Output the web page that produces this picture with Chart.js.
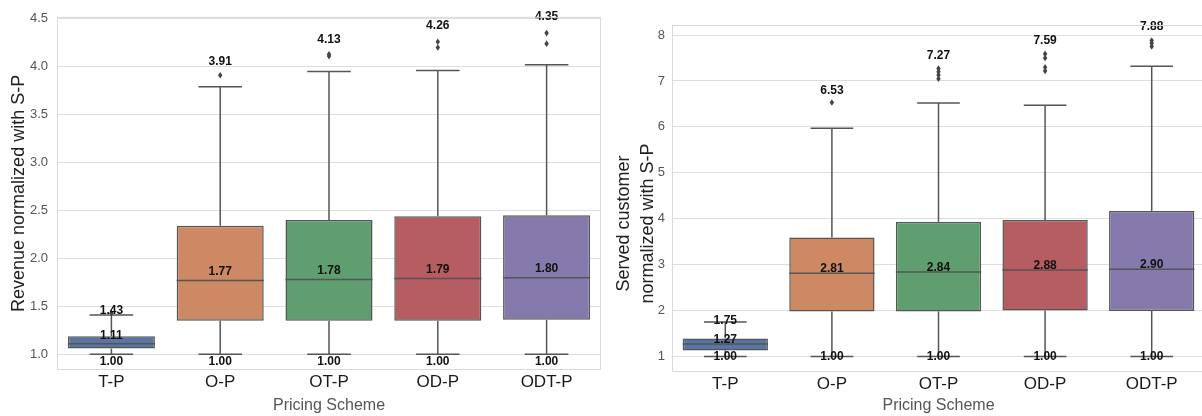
<!DOCTYPE html>
<html><head><meta charset="utf-8">
<script src="https://cdn.jsdelivr.net/npm/chart.js@4.4.1/dist/chart.umd.min.js"></script>
<style>
html,body{margin:0;padding:0;background:#fff;overflow:hidden;width:1202px;height:416px;}
#wrap{position:relative;width:1202px;height:416px;overflow:hidden;background:#fff;}
#c1{position:absolute;left:0;top:0;width:605px;height:416px;}
#c2{position:absolute;left:600px;top:0;width:612px;height:416px;}
</style></head><body>
<div id="wrap"><canvas id="c1" width="605" height="416"></canvas><canvas id="c2" width="612" height="416"></canvas></div>
<script>
const categories = ['T-P', 'O-P', 'OT-P', 'OD-P', 'ODT-P'];
const boxColors = ['#5975A4', '#CC8963', '#5F9E6E', '#B55D60', '#857AAB'];

// Revenue normalized with S-P
const revMin       = [1.00, 1.00, 1.00, 1.00, 1.00];
const revQ1        = [1.06, 1.35, 1.35, 1.35, 1.36];
const revMedian    = [1.11, 1.77, 1.78, 1.79, 1.80];
const revQ3        = [1.19, 2.34, 2.40, 2.44, 2.45];
const revWhiskerHi = [1.41, 3.79, 3.95, 3.96, 4.02];
const revOutliers  = [[1.43], [3.91], [4.11, 4.13], [4.20, 4.26], [4.24, 4.35]];
const revTicks     = [1.0, 1.5, 2.0, 2.5, 3.0, 3.5, 4.0, 4.5];

// Served customer normalized with S-P
const cusMin       = [1.00, 1.00, 1.00, 1.00, 1.00];
const cusQ1        = [1.13, 1.98, 1.98, 2.00, 1.99];
const cusMedian    = [1.27, 2.81, 2.84, 2.88, 2.90];
const cusQ3        = [1.39, 3.59, 3.93, 3.97, 4.17];
const cusWhiskerHi = [1.75, 5.97, 6.52, 6.47, 7.32];
const cusOutliers  = [[], [6.53], [7.05, 7.13, 7.20, 7.27], [7.22, 7.30, 7.50, 7.59], [7.75, 7.82, 7.88]];
const cusTicks     = [1, 2, 3, 4, 5, 6, 7, 8];

const FONT = "'Liberation Sans', Arial, sans-serif";
const LINE = '#555555';

function makeBoxPlugin(st, sty) {
  return {
    id: 'boxplot_' + sty.name,
    afterDraw(chart) {
      const {ctx, chartArea: a} = chart;
      ctx.save();
      ctx.strokeStyle = '#d9d9d9';
      ctx.lineWidth = 1;
      ctx.strokeRect(a.left + 0.5, a.top + 0.5, a.right - a.left - 1, a.bottom - a.top - 1);
      ctx.restore();
    },
    afterDatasetsDraw(chart) {
      const {ctx} = chart;
      const y = chart.scales.y;
      const meta = chart.getDatasetMeta(0);
      const py = v => y.getPixelForValue(v);
      const line = (x1, y1, x2, y2) => { ctx.beginPath(); ctx.moveTo(x1, y1); ctx.lineTo(x2, y2); ctx.stroke(); };
      meta.data.forEach((bar, i) => {
        const cx = bar.x, hw = bar.width / 2, cw = hw / 2;
        ctx.save();
        ctx.strokeStyle = LINE;
        ctx.lineWidth = 1.5;
        line(cx, py(st.q3[i]), cx, py(st.hi[i]));
        line(cx, py(st.q1[i]), cx, py(st.min[i]));
        line(cx - cw, py(st.hi[i]), cx + cw, py(st.hi[i]));
        line(cx - cw, py(st.min[i]), cx + cw, py(st.min[i]));
        line(cx - hw, py(st.med[i]), cx + hw, py(st.med[i]));
        ctx.fillStyle = '#444';
        st.out[i].forEach(v => {
          const oy = py(v);
          ctx.beginPath();
          ctx.moveTo(cx, oy - 3.3); ctx.lineTo(cx + 2.2, oy); ctx.lineTo(cx, oy + 3.3); ctx.lineTo(cx - 2.2, oy);
          ctx.closePath(); ctx.fill();
        });
        const mx = Math.max(st.hi[i], ...st.out[i]);
        const mn = st.min[i];
        ctx.fillStyle = '#111';
        ctx.font = 'bold 12px ' + FONT;
        ctx.textAlign = 'center';
        ctx.textBaseline = 'middle';
        ctx.fillText(mx.toFixed(2), cx, py(mx + sty.topK * (mx - mn)));
        ctx.fillText(st.med[i].toFixed(2), cx, py(st.med[i] + sty.medOff));
        ctx.fillText(mn.toFixed(2), cx, py(mn - sty.minOff));
        ctx.restore();
      });
    }
  };
}

function makeChart(id, st, sty) {
  return new Chart(document.getElementById(id), {
    type: 'bar',
    data: {
      labels: categories,
      datasets: [{
        data: categories.map((c, i) => [st.q1[i], st.q3[i]]),
        backgroundColor: boxColors,
        borderColor: LINE,
        borderWidth: 1.5,
        borderSkipped: false,
        barPercentage: 0.8,
        categoryPercentage: 1.0
      }]
    },
    options: {
      responsive: false,
      animation: false,
      devicePixelRatio: 1,
      layout: {padding: sty.padding},
      plugins: {legend: {display: false}, tooltip: {enabled: false}},
      scales: {
        x: {
          grid: {display: false, drawTicks: false},
          border: {display: false},
          ticks: {color: '#1a1a1a', font: {family: FONT, size: 17}, padding: sty.xTickPad},
          title: {display: true, text: 'Pricing Scheme', color: '#555', font: {family: FONT, size: 16}, padding: {top: 0, bottom: 1}},
          afterFit: s => { s.height = sty.xHeight; }
        },
        y: {
          min: sty.yMin, max: sty.yMax,
          afterBuildTicks: s => { s.ticks = sty.ticks.map(v => ({value: v})); },
          grid: {color: '#dedede', lineWidth: 1, drawTicks: false},
          border: {display: false},
          ticks: {color: '#555', font: {family: FONT, size: 13}, padding: sty.yTickPad, callback: sty.fmt},
          title: {display: true, text: sty.yTitle, color: '#222', font: {family: FONT, size: 18, lineHeight: sty.titleLH}, padding: {top: sty.yTitlePad, bottom: 0}},
          afterFit: s => { s.width = sty.yWidth; }
        }
      }
    },
    plugins: [makeBoxPlugin(st, sty)]
  });
}

makeChart('c1',
  {min: revMin, q1: revQ1, med: revMedian, q3: revQ3, hi: revWhiskerHi, out: revOutliers},
  {name: 'rev', topK: 0.05, medOff: 0.09, minOff: 0.08, padding: {left: 0, top: 16, right: 4, bottom: 0},
   xHeight: 46, yWidth: 57, yMin: 0.837, yMax: 4.52, ticks: revTicks, fmt: v => Number(v).toFixed(1),
   yTickPad: 9, xTickPad: 2, yTitle: 'Revenue normalized with S-P', titleLH: 1.2, yTitlePad: 8});

makeChart('c2',
  {min: cusMin, q1: cusQ1, med: cusMedian, q3: cusQ3, hi: cusWhiskerHi, out: cusOutliers},
  {name: 'cus', topK: 0.045, medOff: 0.09, minOff: 0, padding: {left: 0, top: 25, right: 7, bottom: 0},
   xHeight: 44, yWidth: 72, yMin: 0.66, yMax: 8.22, ticks: cusTicks, fmt: v => String(v),
   yTickPad: 7, xTickPad: 2,
   yTitle: ['Served customer\u00A0\u00A0\u00A0\u00A0\u00A0\u00A0\u00A0\u00A0\u00A0\u00A0', 'normalized with S-P\u00A0\u00A0\u00A0\u00A0\u00A0\u00A0\u00A0\u00A0\u00A0\u00A0'],
   titleLH: 1.3333, yTitlePad: 12});
</script>
</body></html>
